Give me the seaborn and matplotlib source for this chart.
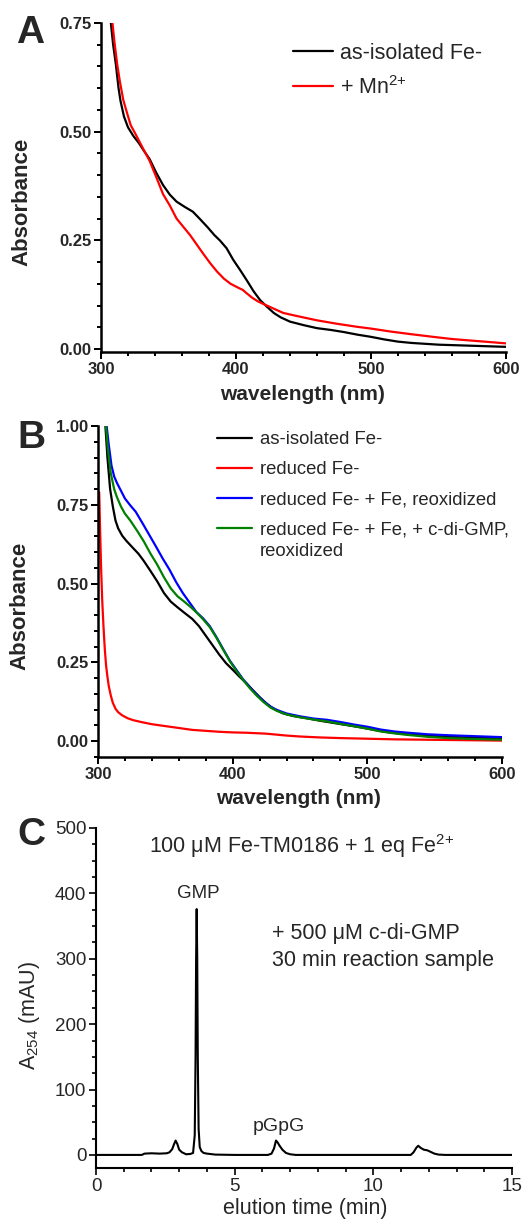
import matplotlib
matplotlib.use("Agg")
import matplotlib.pyplot as plt
import seaborn as sns
import pandas as pd
from matplotlib.ticker import MultipleLocator, FormatStrFormatter

# ---- panel A: as-isolated vs + Mn2+ ----
a_iso_nm = [307.3, 309, 311, 313, 314.5, 317, 320, 324, 328, 332, 336, 341, 346, 351,
            356, 362, 368, 373, 379, 384, 388, 393, 398, 403, 408, 413, 418, 423, 428,
            433, 440, 450, 460, 470, 480, 490, 500, 510, 520, 530, 540, 550, 570, 600]
a_iso_abs = [0.75, 0.70, 0.655, 0.60, 0.57, 0.535, 0.51, 0.49, 0.474, 0.455, 0.437, 0.405,
             0.377, 0.355, 0.339, 0.327, 0.316, 0.30, 0.28, 0.262, 0.25, 0.232, 0.205,
             0.182, 0.158, 0.133, 0.112, 0.097, 0.083, 0.073, 0.063, 0.055, 0.048, 0.044,
             0.039, 0.033, 0.028, 0.022, 0.017, 0.014, 0.012, 0.010, 0.008, 0.005]
a_mn_nm = [308.5, 310, 312, 314, 316.5, 319, 322, 326, 331, 336, 341, 346, 351, 356, 361,
           366, 371, 376, 381, 386, 391, 396, 401, 405, 408, 412, 416, 420, 425, 430, 435,
           445, 460, 475, 490, 500, 515, 530, 546, 560, 580, 600]
a_mn_abs = [0.75, 0.705, 0.655, 0.615, 0.573, 0.546, 0.515, 0.492, 0.462, 0.433, 0.395,
            0.356, 0.33, 0.30, 0.281, 0.262, 0.240, 0.218, 0.197, 0.178, 0.162, 0.150,
            0.142, 0.136, 0.128, 0.118, 0.110, 0.104, 0.097, 0.090, 0.083, 0.076, 0.066,
            0.058, 0.051, 0.047, 0.040, 0.034, 0.028, 0.023, 0.018, 0.013]

# ---- panel B: reduction / reoxidation ----
b_iso_nm = [305.5, 307, 309, 311, 313, 315, 318, 321, 326, 330, 334, 339, 344, 349, 354,
            359, 364, 370, 375, 380, 385, 390, 395, 400, 405, 410, 415, 420, 425, 430,
            437, 445, 455, 465, 475, 485, 495, 505, 515, 525, 540, 560, 580, 600]
b_iso_abs = [1.0, 0.90, 0.80, 0.745, 0.70, 0.675, 0.652, 0.636, 0.613, 0.595, 0.572, 0.540,
             0.507, 0.470, 0.443, 0.425, 0.408, 0.388, 0.365, 0.335, 0.305, 0.275, 0.248,
             0.227, 0.205, 0.185, 0.162, 0.140, 0.120, 0.104, 0.089, 0.080, 0.073, 0.065,
             0.058, 0.051, 0.044, 0.036, 0.029, 0.024, 0.019, 0.014, 0.011, 0.009]
b_red_nm = [300.9, 301.5, 302.3, 303.1, 304, 305, 306, 307, 308, 309.5, 311, 313, 315, 318,
            322, 326, 332, 340, 350, 360, 370, 380, 390, 400, 410, 420, 425, 430, 440, 450,
            465, 480, 500, 520, 540, 560, 580, 600]
b_red_abs = [0.79, 0.68, 0.55, 0.45, 0.37, 0.295, 0.24, 0.205, 0.175, 0.145, 0.122, 0.103,
             0.092, 0.082, 0.073, 0.067, 0.061, 0.054, 0.048, 0.042, 0.036, 0.033, 0.030,
             0.028, 0.027, 0.025, 0.024, 0.022, 0.018, 0.015, 0.012, 0.010, 0.008, 0.006,
             0.005, 0.004, 0.003, 0.002]
b_fe_nm = [306.4, 308, 310, 312, 314, 317, 320, 324, 328, 333, 338, 343, 348, 353, 358,
           363, 368, 373, 378, 383, 388, 393, 398, 403, 408, 413, 418, 423, 428, 433, 440,
           450, 460, 470, 480, 490, 500, 510, 520, 530, 545, 560, 580, 600]
b_fe_abs = [1.0, 0.94, 0.875, 0.84, 0.82, 0.795, 0.77, 0.748, 0.728, 0.692, 0.655, 0.618,
            0.58, 0.545, 0.505, 0.47, 0.44, 0.41, 0.39, 0.365, 0.33, 0.292, 0.255, 0.225,
            0.195, 0.17, 0.147, 0.127, 0.11, 0.099, 0.088, 0.079, 0.072, 0.068, 0.061,
            0.053, 0.046, 0.037, 0.031, 0.027, 0.022, 0.019, 0.016, 0.013]
b_gmp_nm = [305.9, 307.5, 309.5, 312, 314, 317, 320, 324, 329, 334, 339, 344, 349, 354,
            359, 364, 369, 374, 378, 383, 388, 393, 398, 403, 408, 413, 418, 423, 428, 433,
            440, 450, 460, 470, 480, 490, 500, 510, 520, 530, 545, 560, 580, 600]
b_gmp_abs = [1.0, 0.92, 0.85, 0.80, 0.775, 0.745, 0.722, 0.70, 0.668, 0.634, 0.595, 0.56,
             0.52, 0.485, 0.46, 0.443, 0.425, 0.405, 0.387, 0.362, 0.328, 0.290, 0.253,
             0.222, 0.193, 0.167, 0.144, 0.124, 0.107, 0.096, 0.085, 0.076, 0.069, 0.063,
             0.055, 0.048, 0.040, 0.031, 0.025, 0.020, 0.014, 0.010, 0.007, 0.005]

# ---- panel C: HPLC trace ----
c_time = [0, 1.65, 1.75, 2.0, 2.3, 2.55, 2.65, 2.75, 2.81, 2.87, 2.93, 3.0, 3.1, 3.25, 3.4,
          3.5, 3.56, 3.59, 3.61, 3.63, 3.65, 3.67, 3.70, 3.74, 3.80, 3.88, 4.0, 4.3, 5.0,
          6.2, 6.33, 6.42, 6.49, 6.55, 6.62, 6.72, 6.85, 7.0, 7.2, 11.35, 11.45, 11.55,
          11.62, 11.70, 11.82, 11.95, 12.05, 12.2, 12.35, 12.6, 15.0]
c_mau = [0, 0, 2, 2.5, 2, 2.5, 4, 9, 16, 22, 17, 8, 4, 1, 1.5, 3, 30, 150, 300, 376, 300,
         150, 40, 12, 6, 3, 2, 0.5, 0, 0, 2, 10, 22, 19, 14, 8, 3, 1, 0, 0, 4, 11, 14, 11,
         8, 7, 5, 2, 0.5, 0, 0]

W, H = 530, 1219
sns.set_theme(style="ticks")
plt.rcParams["font.family"] = ["Liberation Sans", "DejaVu Sans"]
plt.rcParams["mathtext.fontset"] = "custom"
plt.rcParams["mathtext.rm"] = "Liberation Sans"
plt.rcParams["mathtext.default"] = "regular"


def box(left, top, right, bottom):
    return [left / W, 1 - bottom / H, (right - left) / W, (bottom - top) / H]


def label(x, y, text, **kw):
    # place text by pixel position measured from the top-left corner
    fig.text(x / W, 1 - y / H, text, **kw)


def style(ax, bold, lw, size):
    sns.despine(ax=ax)
    for s in ("left", "bottom"):
        ax.spines[s].set_linewidth(lw)
        ax.spines[s].set_color("black")
    ax.tick_params(which="major", direction="out", length=5, width=lw * 0.8,
                   labelsize=size, color="black", pad=2, left=True, bottom=True)
    ax.tick_params(which="minor", direction="out", length=3, width=lw * 0.8,
                   color="black", left=True, bottom=True)
    if bold:
        for t in ax.get_xticklabels() + ax.get_yticklabels():
            t.set_fontweight("bold")
    ax.set_xlabel("")
    ax.set_ylabel("")
    ax.grid(False)
    ax.set_facecolor("white")


fig = plt.figure(figsize=(W / 100, H / 100), dpi=100)
fig.patch.set_facecolor("white")

# panel A
axA = fig.add_axes(box(101, 23, 506, 352.5))
sns.lineplot(x=a_iso_nm, y=a_iso_abs, ax=axA, color="black", lw=1.6, label="as-isolated Fe-")
sns.lineplot(x=a_mn_nm, y=a_mn_abs, ax=axA, color="#ff0000", lw=1.6, label="+ Mn$^{2{+}}$")
axA.set_xlim(300, 600)
axA.set_ylim(-0.008, 0.75)
axA.xaxis.set_major_locator(MultipleLocator(100))
axA.xaxis.set_minor_locator(MultipleLocator(20))
axA.yaxis.set_major_locator(MultipleLocator(0.25))
axA.yaxis.set_minor_locator(MultipleLocator(0.05))
axA.yaxis.set_major_formatter(FormatStrFormatter("%.2f"))
style(axA, True, 1.8, 12)
axA.legend(loc="upper left", bbox_to_anchor=(293 / W, 1 - 43 / H), bbox_transform=fig.transFigure,
           frameon=False, fontsize=15.5, handlelength=1.86, handletextpad=0.33,
           labelspacing=0.55, borderpad=0, borderaxespad=0)
label(303, 394, "wavelength (nm)", fontsize=15, fontweight="bold", ha="center", va="center")
label(22, 202, "Absorbance", fontsize=16, fontweight="bold", ha="center", va="center",
      rotation=90)

# panel B
axB = fig.add_axes(box(98, 426, 502, 757))
sns.lineplot(x=b_iso_nm, y=b_iso_abs, ax=axB, color="black", lw=1.6, label="as-isolated Fe-")
sns.lineplot(x=b_red_nm, y=b_red_abs, ax=axB, color="#ff0000", lw=1.6, label="reduced Fe-")
sns.lineplot(x=b_fe_nm, y=b_fe_abs, ax=axB, color="#0000ff", lw=1.6,
             label="reduced Fe- + Fe, reoxidized")
sns.lineplot(x=b_gmp_nm, y=b_gmp_abs, ax=axB, color="#008000", lw=1.6,
             label="reduced Fe- + Fe, + c-di-GMP,")
axB.set_xlim(300, 600)
axB.set_ylim(-0.05, 1.0)
axB.xaxis.set_major_locator(MultipleLocator(100))
axB.xaxis.set_minor_locator(MultipleLocator(20))
axB.yaxis.set_major_locator(MultipleLocator(0.25))
axB.yaxis.set_minor_locator(MultipleLocator(0.05))
axB.yaxis.set_major_formatter(FormatStrFormatter("%.2f"))
style(axB, True, 1.8, 12)
axB.legend(loc="upper left", bbox_to_anchor=(217 / W, 1 - 431 / H), bbox_transform=fig.transFigure,
           frameon=False, fontsize=13.3, handlelength=1.9, handletextpad=0.43,
           labelspacing=0.72, borderpad=0, borderaxespad=0)
label(260, 551, "reoxidized", fontsize=13.3, ha="left", va="center")
label(299, 798, "wavelength (nm)", fontsize=15, fontweight="bold", ha="center", va="center")
label(20, 606, "Absorbance", fontsize=16, fontweight="bold", ha="center", va="center",
      rotation=90)

# panel C
axC = fig.add_axes(box(96, 828, 512, 1168))
sns.lineplot(x=c_time, y=c_mau, ax=axC, color="black", lw=1.5)
axC.set_xlim(0, 15)
axC.set_ylim(-20, 500)
axC.xaxis.set_major_locator(MultipleLocator(5))
axC.xaxis.set_minor_locator(MultipleLocator(1))
axC.yaxis.set_major_locator(MultipleLocator(100))
axC.yaxis.set_minor_locator(MultipleLocator(25))
style(axC, False, 1.5, 13.5)
label(305, 1214, "elution time (min)", fontsize=15.5, ha="center", va="baseline")
label(30, 1016, "A$_{254}$ (mAU)", fontsize=15.5, ha="center", va="center", rotation=90)
axC.text(7.43, 473, "100 \u03bcM Fe-TM0186 + 1 eq Fe$^{2{+}}$", fontsize=15.5, ha="center", va="center")
axC.text(3.68, 400, "GMP", fontsize=13.5, ha="center", va="center")
axC.text(6.6, 43, "pGpG", fontsize=14, ha="center", va="center")
axC.text(6.35, 339, "+ 500 \u03bcM c-di-GMP", fontsize=15.5, ha="left", va="center")
axC.text(6.35, 298, "30 min reaction sample", fontsize=15.5, ha="left", va="center")

# panel letters
for letter, (x, y) in {"A": (30, 33), "B": (31, 438), "C": (31, 835)}.items():
    label(x, y, letter, fontsize=28, fontweight="bold", ha="center", va="center")

fig.savefig("out.png", dpi=100)
